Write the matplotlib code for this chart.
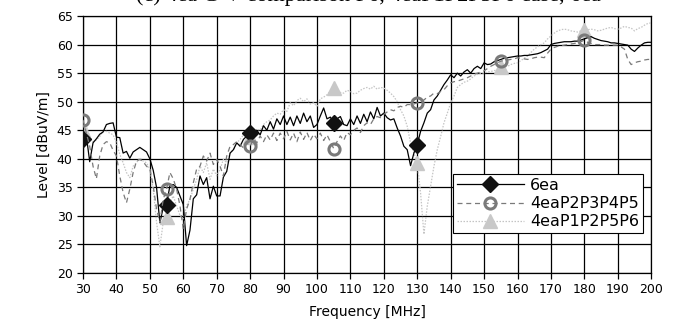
import numpy as np
import matplotlib
matplotlib.use('Agg')
import matplotlib.pyplot as plt

# frequency grid, 1 MHz steps
freq = np.arange(30, 201)

# 6ea
lvl_6ea = [
    43.5, 44.0, 39.5, 42.8, 43.5, 44.3, 44.7, 46.0, 46.2, 46.3,
    43.8, 43.7, 41.0, 41.3, 40.1, 41.2, 41.6, 42.0, 41.6, 41.2,
    40.0, 38.0, 35.0, 28.8, 31.5, 32.0, 35.3, 35.5, 35.0, 33.5,
    32.0, 24.8, 27.5, 33.0, 33.7, 37.0, 35.5, 36.7, 33.0, 35.2,
    33.5, 33.5, 36.8, 37.8, 41.0, 41.6, 42.8, 42.2, 43.4, 44.0,
    44.5, 44.0, 45.0, 44.2, 45.8, 45.0, 46.5, 45.2, 47.0, 46.0,
    47.5, 46.0, 47.3, 45.8, 47.5, 46.2, 48.0, 46.5, 47.5, 45.5,
    46.0, 47.5, 48.9, 47.0, 47.3, 46.3, 47.0, 47.4, 46.0, 45.8,
    47.0, 46.0, 47.5, 46.2, 47.8, 46.5, 48.2, 47.0, 49.0, 47.5,
    48.0, 47.2, 46.8, 47.0, 45.4, 44.0, 42.2, 41.6, 38.8, 41.0,
    42.5, 44.8, 46.3, 48.0, 48.6, 50.3, 51.0, 52.0, 53.0, 53.8,
    54.7, 54.2, 55.0, 54.5, 55.2, 55.6, 55.0, 55.8, 56.2, 55.8,
    56.8, 56.5, 56.6, 57.0, 57.2, 57.4, 57.6, 57.7, 57.8, 57.9,
    58.0, 58.0, 58.1, 58.1, 58.2, 58.3, 58.4, 58.6, 58.9, 59.2,
    60.0, 60.2, 60.3, 60.4, 60.5, 60.5, 60.5, 60.6, 60.6, 60.8,
    61.0, 61.2, 61.4, 61.1, 60.9, 60.7, 60.6, 60.5, 60.3, 60.3,
    60.2, 60.1, 60.0, 59.9, 59.2, 58.8, 59.4, 59.9, 60.3, 60.4,
    60.4]

# 4eaP2P3P4P5
lvl_p2345 = [
    46.8, 44.5, 42.2, 38.7, 36.5, 40.5, 42.5, 43.0, 42.8, 41.5,
    40.5, 37.0, 34.1, 32.3, 34.7, 37.6, 39.6, 39.9, 39.5, 38.7,
    38.2, 35.3, 31.2, 28.9, 32.9, 34.7, 37.6, 36.5, 34.7, 31.8,
    27.7, 31.2, 32.9, 35.8, 38.2, 38.7, 40.5, 39.6, 41.0, 39.0,
    39.9, 38.7, 37.0, 40.5, 42.2, 42.5, 43.0, 42.5, 41.9, 42.8,
    42.2, 43.5, 42.8, 44.0, 43.0, 44.2, 43.3, 44.5, 43.2, 44.5,
    43.5, 44.8, 43.3, 44.5, 43.0, 44.7, 43.4, 44.6, 43.2, 44.3,
    43.5, 44.5, 43.2, 44.2, 43.0, 41.8, 43.0, 44.0, 43.2, 44.6,
    44.2, 45.0, 45.4, 44.6, 45.8, 46.3, 46.0, 47.0, 47.4, 47.2,
    47.8, 48.2, 48.6, 48.4, 49.0, 49.2, 49.0, 49.5, 49.5, 49.6,
    49.8, 50.0, 50.3, 50.8, 51.0, 51.5, 51.4, 51.8, 52.1, 52.8,
    53.3, 53.5, 53.6, 53.8, 54.0, 54.2, 54.5, 54.8, 55.0, 55.2,
    55.4, 55.8, 56.2, 56.5, 56.8, 57.1, 57.2, 57.3, 57.4, 57.5,
    57.7, 57.6, 57.5, 57.4, 57.5, 57.7, 57.8, 57.8, 57.7, 58.5,
    59.2, 59.5, 59.7, 59.8, 59.9, 60.0, 60.1, 60.2, 60.3, 60.5,
    60.8, 60.4, 60.2, 60.0, 60.0, 60.0, 59.9, 59.9, 59.9, 59.9,
    59.9, 59.6, 59.2, 57.4, 56.5, 56.8, 57.0, 57.1, 57.3, 57.4,
    57.4]

# 4eaP1P2P5P6
lvl_p1256 = [
    45.1, 45.7, 43.9, 43.0, 43.3, 43.9, 44.8, 44.8, 44.5, 44.2,
    42.8, 40.8, 39.3, 37.6, 36.7, 38.7, 39.3, 40.2, 39.6, 39.3,
    38.2, 34.7, 28.9, 24.6, 28.9, 29.8, 32.4, 33.5, 31.8, 30.1,
    29.5, 31.8, 32.9, 34.7, 36.4, 38.7, 37.6, 39.3, 36.4, 38.2,
    37.0, 38.2, 39.9, 39.3, 41.0, 41.6, 42.8, 43.4, 44.2, 43.9,
    43.9, 44.5, 45.2, 45.0, 46.0, 46.5, 46.8, 47.5, 48.0, 47.8,
    48.6, 48.3, 49.8, 49.3, 50.2, 50.6, 50.0, 50.5, 49.6, 49.8,
    49.2, 50.5, 50.8, 51.2, 51.8, 52.4, 52.0, 51.6, 51.5, 52.0,
    51.8, 51.4, 51.5, 52.0, 52.3, 52.5, 52.2, 52.7, 52.2, 52.5,
    52.4, 52.0, 51.5, 50.9, 50.0, 48.6, 47.5, 45.7, 42.8, 41.0,
    39.3, 34.0, 26.8, 31.7, 35.2, 38.7, 41.6, 43.9, 46.3, 48.0,
    49.8, 51.0, 52.5, 53.0, 53.4, 53.6, 54.0, 54.5, 54.8, 55.0,
    55.0, 55.2, 55.3, 55.4, 55.7, 56.0, 56.1, 56.2, 56.5, 56.7,
    56.8, 57.2, 57.6, 58.0, 58.6, 59.2, 59.6, 60.0, 60.3, 61.0,
    61.5, 62.0, 62.4, 62.6, 62.7, 62.6, 62.4, 62.3, 62.2, 62.4,
    62.5, 62.6, 62.7, 62.6, 62.4, 62.5, 62.7, 62.9, 63.0, 62.8,
    62.7, 62.9, 63.2, 63.0, 62.9, 62.4, 62.8, 63.0, 63.4, 63.7,
    63.8]

x_ticks = list(range(30, 201, 10))
y_ticks = list(range(20, 66, 5))

fig = plt.figure(figsize=(6.76, 3.27), dpi=100)
ax = fig.add_axes([0.1228, 0.165, 0.8405, 0.786])

ax.plot(freq, lvl_6ea, color='black', lw=0.9, marker='D', ms=8,
        markevery=[0, 25, 50, 75, 100], mfc='#111111', mec='#111111',
        label='6ea', zorder=3)
ax.plot(freq, lvl_p2345, color='#7a7a7a', lw=0.9, dashes=(4, 3),
        marker='o', ms=8, mew=2.2, mfc='none', mec='#7a7a7a',
        markevery=25, label='4eaP2P3P4P5', zorder=4)
ax.plot(freq, lvl_p1256, color='#c4c4c4', lw=0.9, dashes=(1.2, 1.2),
        marker='^', ms=10, mfc='#c8c8c8', mec='#c8c8c8',
        markevery=25, label='4eaP1P2P5P6', zorder=2)

ax.set_xlim(30, 200)
ax.set_ylim(20, 65)
ax.set_xticks(x_ticks)
ax.set_yticks(y_ticks)
ax.grid(True, color='black', lw=0.9)
ax.tick_params(direction='out', length=4, width=0.9, labelsize=9)
for s in ax.spines.values():
    s.set_linewidth(0.9)

ax.set_xlabel('Frequency [MHz]', fontsize=10, labelpad=6)
ax.set_ylabel('Level [dBuV/m]', fontsize=10, labelpad=4)

leg = ax.legend(loc='upper right', bbox_to_anchor=(0.986, 0.385),
                fontsize=11.5, handlelength=4.2, fancybox=False,
                framealpha=1, edgecolor='black', borderpad=0.25,
                labelspacing=0.2, handletextpad=0.4, borderaxespad=0)
leg.get_frame().set_linewidth(0.8)

# title is clipped by the top edge of the image
fig.text(0.545, 0.997, '(c) 4ea C-V comparison P6, 4eaP1P2P5P6 case, 6ea',
         family='Liberation Serif', fontsize=16, ha='center', va='baseline')

fig.savefig('out.png', dpi=100)
